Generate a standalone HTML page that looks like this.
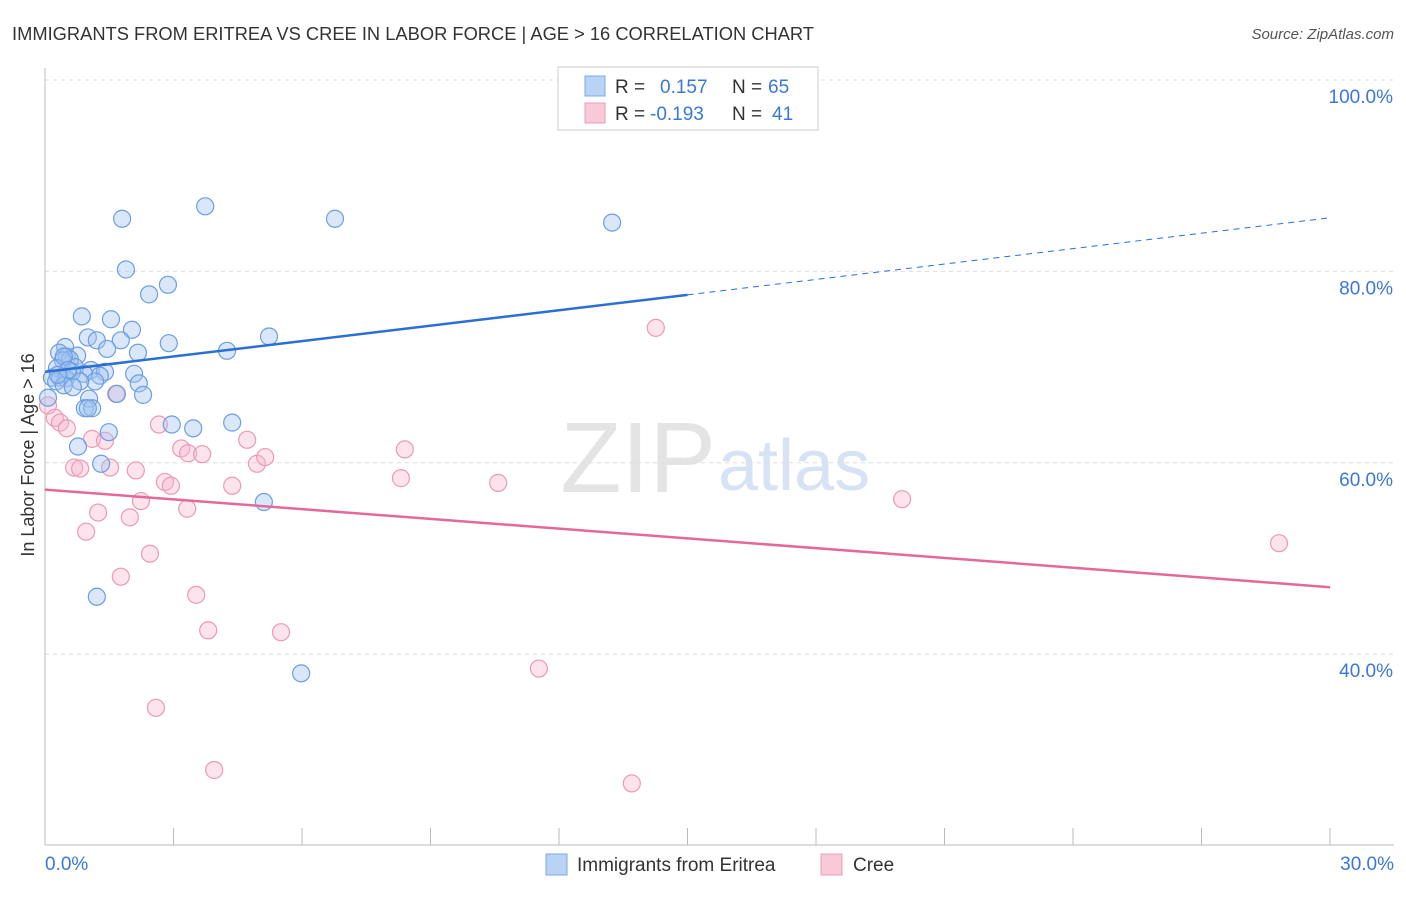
<!DOCTYPE html>
<html><head><meta charset="utf-8">
<style>
body{margin:0;background:#fff;font-family:"Liberation Sans",sans-serif;}
svg text{font-family:"Liberation Sans",sans-serif;}
</style></head>
<body>
<svg id="chart" width="1406" height="892" xmlns="http://www.w3.org/2000/svg">
<text x="12" y="40" font-size="18" fill="#333" textLength="802" lengthAdjust="spacingAndGlyphs">IMMIGRANTS FROM ERITREA VS CREE IN LABOR FORCE | AGE &gt; 16 CORRELATION CHART</text>
<text x="1394" y="39" font-size="15" fill="#555" font-style="italic" text-anchor="end">Source: ZipAtlas.com</text>
<text x="716" y="492" font-size="100" fill="#e4e4e4" text-anchor="end" font-family="Liberation Serif">ZIP</text>
<text x="718" y="490" font-size="72" fill="#d6e3f5">atlas</text>
<g id="grid"></g>
<g id="axes"></g>
<g id="marks"></g>
<text x="34" y="455" font-size="18" fill="#333" text-anchor="middle" transform="rotate(-90 34 455)">In Labor Force | Age &gt; 16</text>
<g>
<rect x="558" y="67" width="260" height="63" fill="#fff" stroke="#ccc"/>
<rect x="585" y="76" width="20" height="20" fill="#b9d3f5" stroke="#7aa8e6"/>
<rect x="585" y="103" width="20" height="20" fill="#f9c9d8" stroke="#ec9cb8"/>
<text x="615" y="93" font-size="19" fill="#333">R = </text><text x="660" y="93" font-size="19" fill="#3a78d8">0.157</text>
<text x="732" y="93" font-size="19" fill="#333">N = </text><text x="768" y="93" font-size="19" fill="#3a78d8">65</text>
<text x="615" y="120" font-size="19" fill="#333">R = </text><text x="650" y="120" font-size="19" fill="#3a78d8">-0.193</text>
<text x="732" y="120" font-size="19" fill="#333">N = </text><text x="772" y="120" font-size="19" fill="#3a78d8">41</text>
</g>
<g>
<rect x="546" y="854" width="21" height="21" fill="#b9d3f5" stroke="#7aa8e6"/>
<text x="577" y="871" font-size="19" fill="#333">Immigrants from Eritrea</text>
<rect x="821" y="854" width="21" height="21" fill="#f9c9d8" stroke="#ec9cb8"/>
<text x="853" y="871" font-size="19" fill="#333">Cree</text>
</g>
</svg>
<script>
const blueX=[1.80,3.74,6.77,13.24,1.89,2.43,2.87,0.86,1.54,2.03,1.00,1.21,1.77,5.23,2.89,0.47,1.45,0.33,2.17,4.25,0.51,0.75,0.58,0.42,0.70,0.28,1.07,1.40,2.08,0.91,0.63,1.28,0.16,0.35,0.49,0.26,1.17,0.82,2.19,0.44,0.65,2.29,1.68,0.07,1.03,0.93,1.10,1.00,2.96,3.46,4.37,1.49,0.77,1.31,5.11,1.21,5.98,0.44,0.54,0.30];
const blueY=[85.5,86.8,85.5,85.1,80.2,77.6,78.6,75.3,75.0,73.9,73.1,72.8,72.8,73.2,72.5,72.1,71.9,71.5,71.5,71.7,71.1,71.2,70.8,70.7,70.0,69.9,69.7,69.5,69.3,69.3,69.5,69.1,68.9,68.9,68.8,68.5,68.5,68.5,68.3,68.1,67.9,67.1,67.2,66.8,66.7,65.7,65.7,65.7,64.0,63.6,64.2,63.2,61.7,59.9,55.9,46.0,38.0,71.1,69.7,69.2];
const pinkX=[14.26,1.66,0.07,0.23,0.35,0.51,2.66,1.10,1.40,4.72,8.40,3.18,3.34,3.67,0.68,0.82,1.52,2.12,4.95,5.14,8.31,2.80,2.94,4.37,10.58,2.24,3.32,20.01,1.24,1.98,0.96,2.45,1.77,3.53,3.81,5.51,11.53,28.81,2.59,3.95,13.70];
const pinkY=[74.1,67.2,66.0,64.7,64.2,63.6,64.0,62.5,62.3,62.4,61.4,61.5,61.0,60.9,59.5,59.4,59.5,59.2,59.9,60.6,58.4,58.0,57.6,57.6,57.9,56.0,55.2,56.2,54.8,54.3,52.8,50.5,48.1,46.2,42.5,42.3,38.5,51.6,34.4,27.9,26.5];
const blueTrend=[69.5,85.6];
const pinkTrend=[57.2,47.0];
const yTicks=[100,80,60,40];
const xTickLabels=["0.0%","30.0%"];

const NS="http://www.w3.org/2000/svg";
const sx=v=>45+v*1285/30;
const sy=v=>80+(100-v)*9.57;
function mk(tag,attrs,parent){const e=document.createElementNS(NS,tag);for(const k in attrs)e.setAttribute(k,attrs[k]);parent.appendChild(e);return e;}
const grid=document.getElementById('grid'),axes=document.getElementById('axes'),marks=document.getElementById('marks');
yTicks.forEach(t=>{
  const l=mk('line',{x1:45,x2:1394,y1:sy(t),y2:sy(t),stroke:'#ddd','stroke-dasharray':'4,4'},grid);
  
  
  const tx=mk('text',{x:1393,y:sy(t)+23,'font-size':19,fill:'#3a78d8','text-anchor':'end'},axes);
  tx.textContent=t.toFixed(1)+'%';
  
  
});
mk('line',{x1:45,x2:45,y1:68,y2:845,stroke:'#bbb'},axes);
mk('line',{x1:45,x2:1394,y1:845,y2:845,stroke:'#bbb'},axes);
for(let i=0;i<=10;i++){mk('line',{x1:sx(i*3),x2:sx(i*3),y1:828,y2:845,stroke:'#bbb'},axes);}
const xl0=mk('text',{x:45,y:870,'font-size':19,fill:'#3a78d8'},axes);xl0.textContent=xTickLabels[0];


const xl1=mk('text',{x:1394,y:870,'font-size':19,fill:'#3a78d8','text-anchor':'end'},axes);xl1.textContent=xTickLabels[1];



pinkX.forEach((x,i)=>{
  const c=mk('circle',{cx:sx(x),cy:sy(pinkY[i]),r:8.5,fill:'rgba(246,182,204,0.38)',stroke:'#ea9ab7','stroke-width':1.2},marks);
  
  
});
blueX.forEach((x,i)=>{
  const c=mk('circle',{cx:sx(x),cy:sy(blueY[i]),r:8.5,fill:'rgba(160,196,240,0.4)',stroke:'#6c9ee0','stroke-width':1.2},marks);
  
  
});
const bAt=x=>blueTrend[0]+(blueTrend[1]-blueTrend[0])*x/30;
const b1=mk('line',{x1:sx(0),y1:sy(bAt(0)),x2:sx(15),y2:sy(bAt(15)),stroke:'#2a6fd6','stroke-width':2.5},marks);


const b2=mk('line',{x1:sx(15),y1:sy(bAt(15)),x2:sx(30),y2:sy(bAt(30)),stroke:'#2a6fd6','stroke-width':1,'stroke-dasharray':'6,5'},marks);


const p1=mk('line',{x1:sx(0),y1:sy(pinkTrend[0]),x2:sx(30),y2:sy(pinkTrend[1]),stroke:'#e4689a','stroke-width':2.5},marks);


</script>
</body></html>
